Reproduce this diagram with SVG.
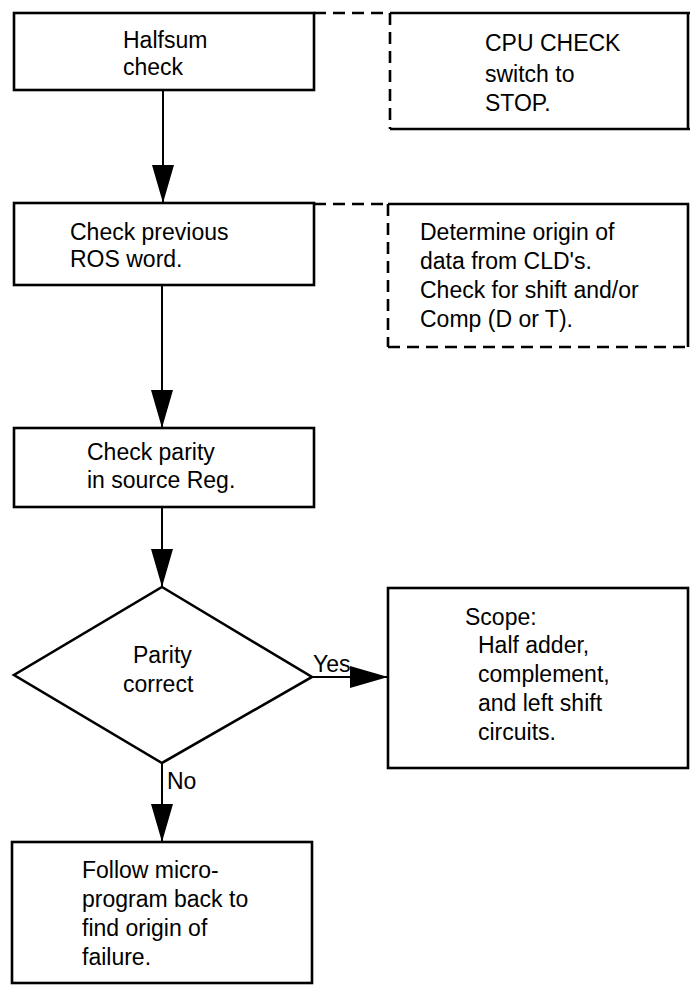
<svg xmlns="http://www.w3.org/2000/svg" width="690" height="986" viewBox="0 0 690 986">
<style>
.box{fill:#fff;stroke:#000;stroke-width:2.6}
.ln{fill:none;stroke:#000;stroke-width:2.6}
.dl{fill:none;stroke:#000;stroke-width:2.6;stroke-dasharray:12 7}
.t{font-family:"Liberation Sans",Arial,sans-serif;font-size:23px;fill:#000}
.c{fill:none;stroke:#000;stroke-width:2}
</style>
<defs>
<marker id="ah" markerUnits="userSpaceOnUse" markerWidth="40" markerHeight="24" refX="38" refY="11" orient="auto"><path d="M0,0 L38,11 L0,22 z" fill="#000"/></marker>
</defs>
<rect width="690" height="986" fill="#fff"/>
<g id="connectors">
<line class="c" x1="163" y1="90" x2="163" y2="203" marker-end="url(#ah)"/>
<line class="dl" x1="314" y1="13" x2="390" y2="13"/>
<line class="c" x1="162" y1="285" x2="162" y2="428" marker-end="url(#ah)"/>
<line class="dl" x1="314" y1="204" x2="388" y2="204"/>
<line class="c" x1="162" y1="508" x2="162" y2="587" marker-end="url(#ah)"/>
<line class="c" x1="312" y1="677" x2="388" y2="677" marker-end="url(#ah)"/>
<text class="t" x="313" y="672">Yes</text>
<line class="c" x1="162" y1="763" x2="162" y2="842" marker-end="url(#ah)"/>
<text class="t" x="167" y="789">No</text>
</g>
<g id="halfsum">
<rect class="box" x="14" y="13" width="300" height="77"/>
<text class="t" x="123" y="48">Halfsum</text>
<text class="t" x="123" y="75">check</text>
</g>
<g id="cpucheck">
<path class="ln" d="M390,13 H690 M688,13 V129 M690,129 H390"/>
<line class="dl" x1="390" y1="13" x2="390" y2="129"/>
<text class="t" x="485" y="51">CPU CHECK</text>
<text class="t" x="485" y="82">switch to</text>
<text class="t" x="485" y="111">STOP.</text>
</g>
<g id="checkros">
<rect class="box" x="14" y="203" width="300" height="82"/>
<text class="t" x="70" y="240">Check previous</text>
<text class="t" x="70" y="267">ROS word.</text>
</g>
<g id="determine">
<path class="ln" d="M388,204 H688 V347"/>
<line class="dl" x1="388" y1="204" x2="388" y2="347"/>
<line class="dl" x1="388" y1="347" x2="688" y2="347" stroke-width="2"/>
<text class="t" x="420" y="240">Determine origin of</text>
<text class="t" x="420" y="269">data from CLD's.</text>
<text class="t" x="420" y="298">Check for shift and/or</text>
<text class="t" x="420" y="327">Comp (D or T).</text>
</g>
<g id="checkparity">
<rect class="box" x="14" y="428" width="300" height="79"/>
<text class="t" x="87" y="460">Check parity</text>
<text class="t" x="87" y="488">in source Reg.</text>
</g>
<g id="paritycorrect">
<polygon class="box" points="162,587 312,677 162,763 14,675"/>
<text class="t" x="133" y="663">Parity</text>
<text class="t" x="123" y="692">correct</text>
</g>
<g id="scope">
<rect class="box" x="388" y="588" width="300" height="180"/>
<text class="t" x="465" y="625">Scope:</text>
<text class="t" x="478" y="653">Half adder,</text>
<text class="t" x="478" y="682">complement,</text>
<text class="t" x="478" y="711">and left shift</text>
<text class="t" x="478" y="740">circuits.</text>
</g>
<g id="follow">
<rect class="box" x="12" y="842" width="300" height="141"/>
<text class="t" x="82" y="878">Follow micro-</text>
<text class="t" x="82" y="907">program back to</text>
<text class="t" x="82" y="936">find origin of</text>
<text class="t" x="82" y="965">failure.</text>
</g>
</svg>
